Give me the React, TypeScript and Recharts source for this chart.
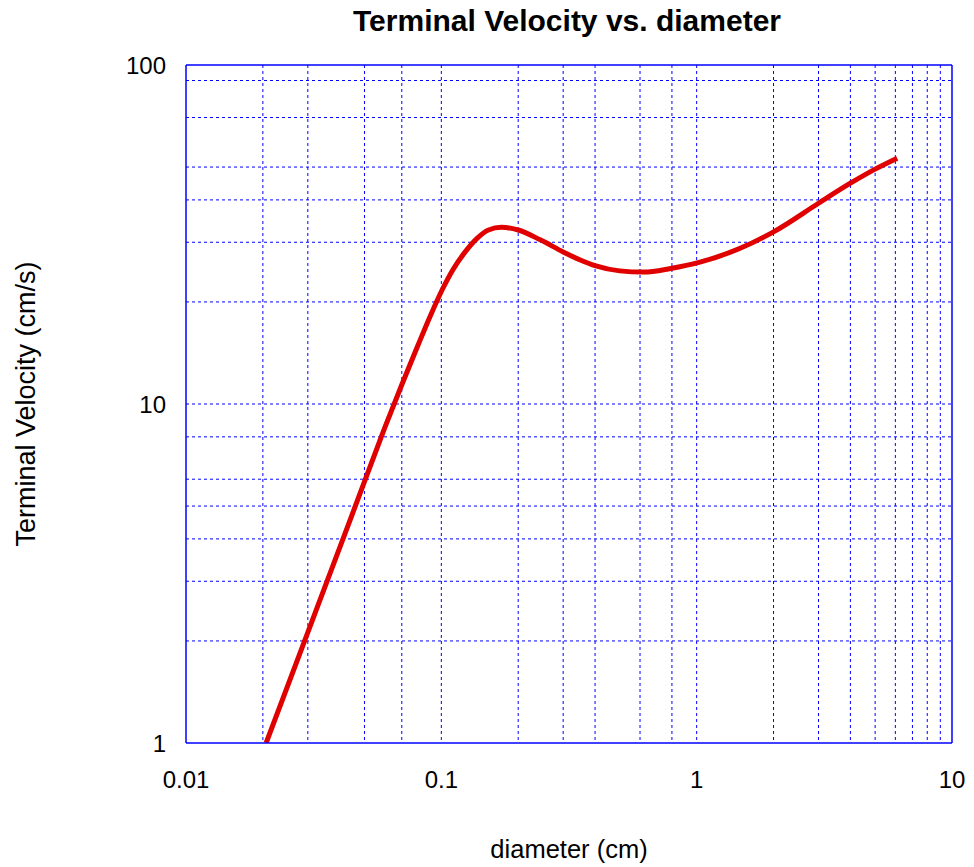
import {
  LineChart,
  Line,
  XAxis,
  YAxis,
  CartesianGrid,
  ReferenceLine,
} from 'recharts'

// diameter (cm) and terminal velocity (cm/s)
const diameter = [
  0.0206, 0.03, 0.04, 0.05, 0.06, 0.07, 0.081, 0.09, 0.101, 0.111, 0.124,
  0.138, 0.153, 0.172, 0.2, 0.244, 0.3, 0.35, 0.4, 0.5, 0.62, 0.79, 1.03, 1.48,
  2.0, 3.0, 4.0, 5.0, 6.1,
]
const velocity = [
  1.0, 2.12, 3.77, 5.9, 8.5, 11.4, 14.9, 18.0, 21.8, 24.9, 28.1, 30.8, 32.6,
  33.2, 32.6, 30.5, 28.1, 26.6, 25.6, 24.7, 24.5, 25.1, 26.2, 28.8, 32.2, 39.1,
  44.8, 49.3, 53.1,
]

const xTicks = [0.01, 0.1, 1, 10]
const yTicks = [1, 10, 100]

// 1..9 per decade, edges left out (frame lines are drawn solid)
const xGrid = [
  0.02, 0.03, 0.04, 0.05, 0.06, 0.07, 0.08, 0.09, 0.1, 0.2, 0.3, 0.4, 0.5, 0.6,
  0.7, 0.8, 0.9, 1, 2, 3, 4, 5, 6, 7, 8, 9,
]
const yGrid = [2, 3, 4, 5, 6, 7, 8, 9, 10, 20, 30, 40, 50, 60, 70, 80, 90]

const data = diameter.map((d, i) => ({ d, v: velocity[i] }))

const BLUE = '#0000ff'
const FONT = 'Liberation Sans, Arial, sans-serif'

export default function App() {
  return (
    <div style={{ position: 'absolute', left: 0, top: 0, fontFamily: FONT }}>
      <div
        style={{
          position: 'absolute',
          left: 186,
          width: 762,
          top: 3,
          textAlign: 'center',
          fontSize: 30,
          fontWeight: 'bold',
          lineHeight: '36px',
          color: '#000',
        }}
      >
        Terminal Velocity vs. diameter
      </div>
      <LineChart
        width={974}
        height={867}
        data={data}
        margin={{ top: 65, right: 22, bottom: 0, left: 0 }}
      >
        <CartesianGrid
          stroke={BLUE}
          strokeDasharray="3 3"
          verticalValues={xGrid}
          horizontalValues={yGrid}
        />
        <XAxis
          dataKey="d"
          type="number"
          scale="log"
          domain={[0.01, 10]}
          ticks={xTicks}
          allowDataOverflow
          height={124}
          tickSize={0}
          tickMargin={28}
          axisLine={{ stroke: BLUE, strokeWidth: 1.5 }}
          tickLine={false}
          tick={{ fill: '#000', fontSize: 24, fontFamily: FONT }}
          tickFormatter={(v) => String(v)}
          label={{
            value: 'diameter (cm)',
            position: 'insideBottom',
            offset: 9,
            fill: '#000',
            fontSize: 25.5,
            fontFamily: FONT,
          }}
        />
        <YAxis
          dataKey="v"
          type="number"
          scale="log"
          domain={[1, 100]}
          ticks={yTicks}
          allowDataOverflow
          width={186}
          tickSize={0}
          tickMargin={20}
          axisLine={{ stroke: BLUE, strokeWidth: 1.5 }}
          tickLine={false}
          tick={{ fill: '#000', fontSize: 24, fontFamily: FONT }}
          label={{
            value: 'Terminal Velocity (cm/s)',
            angle: -90,
            position: 'insideLeft',
            offset: 25,
            fill: '#000',
            fontSize: 27,
            fontFamily: FONT,
            style: { textAnchor: 'middle' },
          }}
        />
        <ReferenceLine x={10} stroke={BLUE} strokeWidth={1.5} />
        <ReferenceLine y={100} stroke={BLUE} strokeWidth={1.5} />
        <Line
          type="monotone"
          dataKey="v"
          stroke="#e00000"
          strokeWidth={5}
          dot={false}
          isAnimationActive={false}
        />
      </LineChart>
    </div>
  )
}
